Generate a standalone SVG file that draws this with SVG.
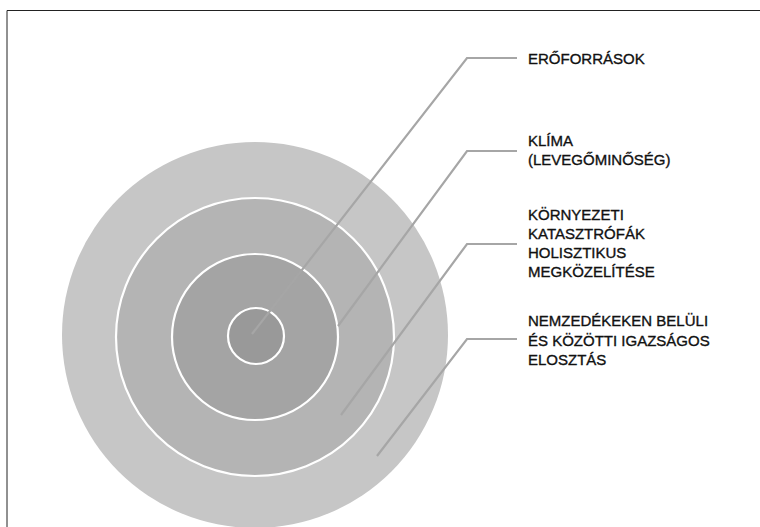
<svg xmlns="http://www.w3.org/2000/svg" width="760" height="527" viewBox="0 0 760 527">
<style>
.ring{stroke:#ffffff;stroke-width:2.2}
.lbl{font-family:"Liberation Sans",Arial,sans-serif;font-size:15px;fill:#111111;stroke:#111111;stroke-width:0.35}
.con{fill:none;stroke:#a6a6a6;stroke-width:2.2;stroke-linejoin:miter}
</style>
<rect width="760" height="527" fill="#ffffff"/>
<path d="M7 527 V10.5 H760" fill="none" stroke="#222222" stroke-width="1"/>
<g id="ring-outer"><circle cx="255" cy="335" r="193" fill="#c6c6c6"/></g>
<g id="ring-second"><circle class="ring" cx="255" cy="337" r="139" fill="#b4b4b4"/></g>
<g id="ring-third"><circle class="ring" cx="255" cy="337" r="83" fill="#a4a4a4"/></g>
<g id="ring-inner"><circle class="ring" cx="256" cy="336" r="28" fill="#999999"/></g>
<g id="connectors">
<polyline class="con" points="517,58 467,58 252,334"/>
<polyline class="con" points="517,151 467,151 338,326"/>
<polyline class="con" points="517,244 467,244 341,415"/>
<polyline class="con" points="517,339 467,339 377,456"/>
</g>
<g id="label-eroforrasok"><text class="lbl" x="528" y="64">ERŐFORRÁSOK</text></g>
<g id="label-klima"><text class="lbl" x="528" y="145.5">KLÍMA</text><text class="lbl" x="528" y="164.5">(LEVEGŐMINŐSÉG)</text></g>
<g id="label-katasztrofak"><text class="lbl" x="528" y="220">KÖRNYEZETI</text><text class="lbl" x="528" y="239">KATASZTRÓFÁK</text><text class="lbl" x="528" y="258">HOLISZTIKUS</text><text class="lbl" x="528" y="277">MEGKÖZELÍTÉSE</text></g>
<g id="label-elosztas"><text class="lbl" x="528" y="326">NEMZEDÉKEKEN BELÜLI</text><text class="lbl" x="528" y="345.5">ÉS KÖZÖTTI IGAZSÁGOS</text><text class="lbl" x="528" y="365">ELOSZTÁS</text></g>
</svg>
